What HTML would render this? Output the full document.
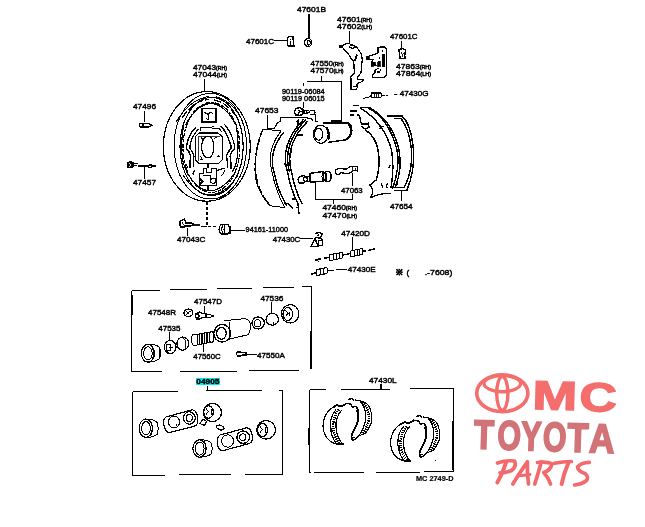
<!DOCTYPE html>
<html><head><meta charset="utf-8">
<style>
html,body{margin:0;padding:0;background:#fff;width:645px;height:527px;overflow:hidden}
svg{display:block;will-change:transform}
text{font-family:"Liberation Sans",sans-serif;fill:#000}
.t{font-size:8px;stroke:#000;stroke-width:0.45}
.s{font-size:5px}
text.ty{font-size:41px;font-weight:bold;fill:#d27377;stroke:#d27377;stroke-width:1.8}
</style></head><body>
<svg width="645" height="527" viewBox="0 0 645 527" shape-rendering="crispEdges">
<g fill="none" stroke="#000" stroke-width="1.45">
<!-- ===== leader lines ===== -->
<path d="M274 40.5H287 M349.5 31V43 M401.5 41V48 M321.5 76V81.5 M307 81.5H341.5V121 M303.5 83V86 M303.5 102V108
 M204.5 79V91.5 M144.5 111V122 M144.5 166V178.6 M267.5 115V128.5H274 M401.5 189.5V201 M315.5 181V199.5H352.5V194 M352.5 185.5V173 M333.5 199V204
 M187.5 228V236 M230.5 230.5H244.6 M300 238.5H313 M352.5 237V250 M381.5 384V389" stroke-width="1"/>
<path d="M207 202V226.5H217" stroke-dasharray="3 2" stroke-width="1.6"/>
</g>


<!-- ===== backing plate ===== -->
<g fill="none" stroke="#000" stroke-width="1.15">
<ellipse cx="206.8" cy="146.4" rx="43.4" ry="54.8"/>
<ellipse cx="210.3" cy="146.2" rx="36.3" ry="52.8" stroke-width="1"/>
<path d="M176 122 Q190 99 209 96.5 M243 122 Q233 101 216 96.8" stroke-width="1"/>
<ellipse cx="211.6" cy="146.5" rx="31.6" ry="49"/>
<ellipse cx="211.4" cy="147.4" rx="28.4" ry="45" stroke-width="1.2" stroke-dasharray="5 1.5 3 1"/>
<path d="M185.5 125Q197 104 211 103.5 225 104 236 125 M186 171Q197 190 210 191 224 190 236 171"/>
<path d="M183 175Q196 194 210 195 226 194 238 175" stroke-width="1"/>
<path d="M182 118Q194 100 209 99.5 M236 116Q226 102 214 100" stroke-width="1.3" stroke-dasharray="8 2"/>
<!-- anchor block -->
<path d="M202 108.5H216V121.9H202Z" stroke-width="1.4"/>
<path d="M204.5 112.5L207.5 114 210.5 112.5 213 113.5 M208.5 113.5V119.5 L206 118.5" stroke-width="1.1"/>
<path d="M202 109v13" stroke-width="2"/>
<!-- hub -->
<path d="M199 133H218L222.5 137V159.5L218.5 163.5H199L195.3 159.5V137Z" stroke-width="1.1"/>
<path d="M195.5 137V159" stroke-width="1.6"/>
<path d="M198.5 160.5V136H219.5" stroke-width="0.8"/>
<ellipse cx="207.8" cy="147" rx="6.2" ry="10.9" stroke-width="1.1"/>
<path d="M200 127.5H210L214 126.5 M200.5 126.5V131 M212 128.5H219L222 132"/>
<path d="M200.5 156.5l1.5 1.5-1.5 1.5h2 M217 157l1.5-1.5 1 2 M201 137.5l2 2 M214.5 138.5l2-1.5" stroke-width="1.1"/>
<!-- wavy side ribs -->
<path d="M195.5 127.5Q190 133 187.5 141.8 186 146 186.5 148.5 189.5 152 190.8 156 189.5 162 189.9 168" stroke-width="1.5"/>
<path d="M198.5 129Q193 135 190.8 142 189.5 146 190 148.5 193 152 194 156 193 162 193.5 167" stroke-width="1.2"/>
<path d="M183.7 124Q180 145 183 162 184.5 168 187.5 172" stroke-width="1.2"/>
<path d="M221 126Q227 133 229.5 141.8 231.5 146 231 148.5 227.5 152 226.5 156 228 162 227.5 168" stroke-width="1.5"/>
<path d="M224.5 124.5Q230.5 131 233.6 141.8 235 146 234.5 149 231 152 230 156 231.5 162 231 169" stroke-width="1.2"/>
<path d="M236 124Q240 145 236.5 162 235 168 232 172" stroke-width="1.2"/>
<!-- bottom block -->
<path d="M199 173.5H203V168H206.5V172H211V168H216.8V185H199Z M203 175.5H210.5V179" stroke-width="1"/>
<circle cx="213.2" cy="180.7" r="2.6" stroke-width="1.1"/>
<path d="M200 179l2.5 2.5-2.5 3" stroke-width="2.2"/>
<path d="M194.5 170.5l-1.5 3 1.5 1 M217 171q4-3 8-2 M208 163V168 M208 185V190"/>
<path d="M221 176q3 -2 4 -6 M186 164l2 4" stroke-width="1"/>
</g>

<!-- ===== top parts ===== -->
<g fill="none" stroke="#000" stroke-width="1.45">
<!-- 47601B -->
<ellipse cx="308.2" cy="42.4" rx="3.6" ry="4" stroke-width="1.3"/>
<ellipse cx="308.7" cy="42.8" rx="1.5" ry="2.3" stroke-width="1"/>
<path d="M309 13.5V38.5" stroke-width="1.4"/>
<!-- 47601C left -->
<path d="M287.5 37.5Q290 35.8 293 36.6L293.8 45.8H288.5Q287 45 287.3 42Z" stroke-width="1.6"/>
<path d="M290 39.5l1.5-1 M290 40.5V44.5" stroke-width="1"/>
<!-- lever 47601 -->
<rect x="339.3" y="44.5" width="3.2" height="3.2" fill="#000" stroke="none"/>
<path d="M342.5 46Q345 43 349 43.5L356.5 47 M342.5 47.5 349.8 55.8 351 58.8 353.8 60.7 354.3 73.6 350.8 76.5V89.4H356.5L357.7 86.4V83.5L363 81V79.5H357.3V77.5L361 72.6 362.2 59.8 361.7 54.3 356.5 47" stroke-width="1.2"/>
<ellipse cx="352.5" cy="46.8" rx="2.8" ry="1.3" stroke-width="1"/>
<path d="M357.2 54.8 354.5 61.2 M351 78V88.5" stroke-width="1.8"/>
<path d="M353 86.5h3v-2.5" stroke-width="1"/>
<!-- bracket 47863 -->
<path d="M378 53.2 378 47.6Q381.5 46.5 385.1 47.2L386.2 48.4V75.5L384.6 77.1H372.4V75L375 73.1V70L379 68 M378 53.2 366.4 56.8 366.8 59.2H373.6L371.2 62.7 371.6 66 375.2 65.2" stroke-width="1.2"/>
<path d="M382 54H384.6V66.5H382Z" fill="#000" stroke-width="0.8"/>
<path d="M366.5 56.5 369 56.2 369.5 59 367 59.2Z M371.3 62.5 375 62 376.3 65.8 372 66.2Z M377.5 61.5 380 61 380.5 66 378 67Z" fill="#000" stroke-width="0.8"/>
<path d="M382.5 50l0.5 1.5 M379 57.5l1 1.5 M377 72h3 M380 69.5l1.5 1" stroke-width="1.2"/>
<!-- 47601C right -->
<path d="M398.8 50Q402 47.5 405.5 50L404.8 55.5 405 58.4 400 58.4 399.8 55.5Z" stroke-width="1.3"/>
<path d="M401 51.5l1.5 2 1.5-2 M402.5 53.5V57" stroke-width="0.9"/>
<!-- 47430G pin -->
<path d="M371.5 93Q370.5 95.5 371.5 97.8H380.8Q382 95.5 380.8 93Z" stroke-width="1.2"/>
<path d="M374 93.5V97.5 M376.5 93.5V97.5 M378.8 93.5V97.5" stroke-width="0.9"/>
<path d="M371.5 96.5 365 97.8 362.5 99.3 M381 95.5H384.5 M386 95.7h2" stroke-width="1"/>
<!-- bolt 90119 -->
<path d="M296 108.5 299.5 107.5 303 109.5 303.3 113.5 300 115.5 296 114.8 294.2 112Z" stroke-width="1.6"/>
<path d="M298 109.8l2 1.8-2 2 M301 111h1" stroke-width="1"/>
<path d="M303.3 110.5H308 L310 111.5 M303.3 113H307.5 L310 112.5 M310 110.8H314.5V114H310 M314.5 112.5H316 M315.8 113.6V121.9H317.6" stroke-width="1"/>
<path d="M304.5 110.5v2.5 M306.5 110.5v2.5" stroke-width="1"/>
<!-- wheel cylinder -->
<path d="M322.6 122.8H347.5Q352.5 124 351.8 131 351 138 345.5 139.8L328 142.4 M341.5 121.2H331.2"/>
<path d="M347.5 123Q351 126 351 131.5 350 137 346 139.5" stroke-width="1.8"/>
<ellipse cx="320.8" cy="134.3" rx="7.4" ry="9.1" stroke-width="1.2"/>
<ellipse cx="318.6" cy="134.2" rx="4.2" ry="6" stroke-width="1.2"/>
<path d="M326.5 127Q330 131 328.5 140" stroke-width="1.8"/>
<!-- left shoe 47653 -->
<path d="M263 129L281 131Q266 150 272 172Q276 192 285 207.7L270 205.7Q254 188 255 168 255.5 147 263 129Z" stroke-width="1"/>
<path d="M263 129Q255 148 255.2 168 255.5 188 270 205.7" stroke-width="1.6" stroke-dasharray="8 3 16 2"/>
<path d="M283.5 132.5Q268 152 274 172Q278 192 287 205.7"/>
<path d="M274.2 128.5 277 123.5 280.5 121 281 117.3H304.5L312 119.2 313 121 M295.5 122.5l2.5-2.5v4h3" stroke-width="1.2"/>
<path d="M303.8 119Q279 145 287.5 172Q291 190 298 204 L299 213.6 M307.8 121Q284 145 291.5 172Q295 190 302 204 M305.8 119.5Q281.5 145 289.5 172"/>
<path d="M284 203l5 1 4 5 M296 208l3-1" stroke-width="1.2"/>
<path d="M297 135h6 M291 150v3 M286 161l-1.5 3 1.5 1.5 M292 199h4" stroke-width="1.2"/>
<!-- right shoe 47654 -->
<path d="M352.5 105.5H359.2 M359.5 107.5H370.5 M349.5 111H356.5 M349.5 115H354 M356.5 115H358.5L360 117.5 360.5 121.5 362 124H368 M360.5 126.5H362L364 128.5H367.5 M367 123.5 368.5 123 369 127.5H367"/>
<path d="M360 108Q384 122 391.5 150 394.5 166 391 188"/>
<path d="M367 107.3Q389 118 397 150 400.5 166 392.5 189"/>
<path d="M370.5 108.5Q392 120 399 150 402.5 168 395.5 187"/>
<path d="M365 129.5Q376 137 378 150 381 165 376.2 180 370 185 370 185 375 190.6 370.5 198 379.6 192.8 391 193.4 395.5 187.5"/>
<path d="M387 116H402 Q411 124 413.5 150 415 170 407 190.3 H393.5 M393 187.5H405 M393.5 118.5H401 Q409 128 411.6 150 413 170 404.5 187"/>
<path d="M379 126.5h4.5 M379 128.5h2 M390 165l-1 3 M398 183l-1.5 3 M387.5 183.5q-2 3 0 5" stroke-width="1.3"/>
<path d="M381 183l2 5" stroke-width="1.2"/>
<!-- adjuster 47460 -->
<path d="M299.5 177Q297 180 299.5 183 H303.5 L305 181.5 H309.5 V176.5 H305 L303.5 175.5Z" stroke-width="1.6"/>
<circle cx="305.5" cy="179.3" r="2"/>
<path d="M309.9 173.4 323.5 171.5 M309.9 182 323.5 181.5 M309.9 173.4V182"/>
<ellipse cx="327.3" cy="176.4" rx="3.9" ry="5.2"/>
<path d="M323.5 171.3Q320.5 176.5 323.5 181.7 M325 172v9 M326.5 172.5v8" stroke-width="1"/>
<!-- 47063 plate -->
<path d="M336 169.5Q335 174 338 175 L341 172.8 348 173.5 351 172.5 353.5 170.5 357.6 171 357.6 166.2 349 167 347 169 338 168.8Z" stroke-width="1.2"/>
<path d="M352 166.5V170.5 M355 167.5l0.5 2.5" stroke-width="0.9"/>
<!-- 47496 pin -->
<path d="M140 123.5Q138.8 125 140 127H148.5L151.8 125.3 148.5 123.5Z" stroke-width="1.3"/>
<path d="M143 123.5V127" stroke-width="1.4"/>
<!-- 47457 bolt -->
<path d="M127.5 162.5 130.5 161.3 133 162.5V166.8L130.5 167.8 127.5 167Z" fill="#000" stroke-width="1"/>
<path d="M129 163.5l2 1.5-2 1.5" stroke="#fff" stroke-width="0.9"/>
<path d="M133 163.2H138 M133 165.8H137" stroke-width="1"/>
<path d="M138 165.8H147.5" stroke-width="1.8"/>
<path d="M148.5 165H151 M151.5 163.8V168 M151.5 166H156 M148.5 165V167.5H151" stroke-width="1.3"/>
<!-- 47043C bolt -->
<path d="M180.3 221Q179 224 180.5 227 H184.5 L186 225.8 H191 L193 224.8 V224 L191 222.8 H186 L184.5 219Z" stroke-width="1.5"/>
<path d="M182 221.5l2 3 -2 2.5" stroke-width="0.9"/>
<path d="M193 225.8H200 M194 224.4H200.3" stroke-width="0.9"/>
<path d="M200.5 226.3H207" stroke-width="1"/>
<!-- 94161 nut -->
<path d="M221 224.5Q217.2 229 221 234 H228 Q231.3 229 228 224.5Z" stroke-width="1.3"/>
<path d="M223 225Q220.5 229 223 233.5 M225 225.5Q223 229 225 233.5" stroke-width="1.1"/>
<path d="M228.5 226.5h1.5v7h-1.5" stroke-width="1.3"/>
<!-- 47430C clip -->
<path d="M311 246.2 315 238.5 318 246.2Z" stroke-width="1.4"/>
<path d="M315.5 233.5Q318.5 232 322 233.5 322.5 236 319.5 238.2 323 239 322.5 242 M314 239Q316 237 319 238 M318.8 240.8H322.8V245.6H318.8Z" stroke-width="1.3"/>
<path d="M317 236l2-1.5" stroke-width="1.1"/>
<!-- 47420D spring assembly -->
<path d="M314.5 260.3 321 258.8 M323.5 258.4 329 257.3 M342 255.2 350.4 253.5 M362 251.5 366 250.8 M368.5 250.5 374.8 248.8"/>
<path d="M315 260.8l4-2.2 M315 260.2l4 1" stroke-width="0.9"/>
<path d="M330 254.5Q328.5 257.5 330 260.5L342 258.3Q343.5 255.5 342 252.5Z M333 254V259.8 M336 253.4V259.2 M339 252.8V258.7" stroke-width="1"/>
<path d="M351 251Q349.5 254 351 257L362 254.5Q363.5 251.5 362 248.5Z M354 250.5V256.5 M357 250V256 M359.5 249.3V255.3" stroke-width="1"/>
<!-- 47430E spring -->
<path d="M311 274.5 316 272.5" stroke-width="1.6"/>
<path d="M317 269.5Q315.5 272.5 317 275.5L327 273.5Q328.5 270.5 327 267.5Z M320 269V275 M323 268.5V274.5" stroke-width="1"/>
<path d="M328 270.5H333.5 M336 269.8H347" stroke-width="1"/>
</g>


<!-- ===== box 1 ===== -->
<g fill="none" stroke="#000" stroke-width="1.45">
<path d="M131.5 290.5H160 M170 289.5H206.6 M217.2 288.5H252 M262.5 287.5H294.3 M302 286.5H311V369 M131.5 290.5V371.5H161.7 M179.6 371.5H237.3 M249 370.5H298.5" stroke-width="1"/>
<path d="M311 331V369" stroke-width="1.8"/>
<path d="M131.8 295V315" stroke-width="1.8"/>
<!-- 47548R ring -->
<ellipse cx="188.4" cy="312.8" rx="4.5" ry="3.7" stroke-width="1.3"/>
<path d="M186.5 311.5l2 1.5-2 1.5 M189 311.5h1.5" stroke-width="1"/>
<!-- bleeder 47547D -->
<path d="M196 314Q195 316.5 196.5 319H200L202 317.5H206V313.5H202L200 312Z" stroke-width="1.4"/>
<path d="M197.5 314l2 2-2 2 M206 314H209.5 M206 317H209.5 M210 314.5 213.5 316 210 317.5" stroke-width="1"/>
<path d="M204.7 305.5V313" stroke-width="1"/>
<!-- large boot left -->
<ellipse cx="147.9" cy="353.3" rx="6.6" ry="8.9" stroke-width="1.2"/>
<ellipse cx="147.9" cy="353.4" rx="4.3" ry="6.6" stroke-width="1"/>
<path d="M148 344.4Q156 344 159.5 347.5 161.5 353 159.5 358.5 155 362 148 362.2" stroke-width="1"/>
<path d="M152 346.5Q155 353 152 360.5 M159 349v8" stroke-width="1"/>
<!-- piston 47535 -->
<ellipse cx="170.2" cy="347.1" rx="5.9" ry="6.6" stroke-width="1.2"/>
<path d="M166 344h4v6h-4z M169 347h4 M167 351.5l2 1.5" stroke-width="1"/>
<path d="M169.7 332V340.5" stroke-width="1"/>
<!-- cup -->
<ellipse cx="182.8" cy="343.6" rx="5.9" ry="6.6" stroke-width="1.2"/>
<path d="M183.5 337.5Q187 342 185 349" stroke-width="0.9"/>
<!-- spring 47560C -->
<path d="M193 334.2H197 Q199 339.5 197 345 H193 Q189.8 339.5 193 334.2Z" stroke-width="1"/>
<path d="M197 334.3 211 331.8 M197 345 211 342.3" stroke-width="1"/>
<path d="M199.5 334V344.5 M202 333.5V344 M204.5 333V343.5 M207 332.5V343 M209.5 332V342.5" stroke-width="1.3"/>
<ellipse cx="211.5" cy="337" rx="2.5" ry="5.3" stroke-width="1"/>
<path d="M203.8 344V352" stroke-width="1"/>
<!-- cylinder body -->
<ellipse cx="222.2" cy="333.3" rx="8.4" ry="8.8" stroke-width="1.3"/>
<ellipse cx="221.4" cy="333.3" rx="4.8" ry="5.9" stroke-width="1.3"/>
<path d="M224 320.8 244.6 318.6 Q251 320 250.5 327 250 333 247.6 334.8 L229 339.2 M229.5 322v16" stroke-width="1"/>
<path d="M215.5 329l-1.5 3 M229 333.5h1.5" stroke-width="1.5"/>
<!-- cup 47536 small -->
<ellipse cx="258.2" cy="323" rx="6.2" ry="6" stroke-width="1.2"/>
<ellipse cx="257.5" cy="323.2" rx="3.2" ry="3.6" stroke-width="1"/>
<!-- piston ball -->
<ellipse cx="272.2" cy="319.3" rx="6.2" ry="5.9" stroke-width="1.2"/>
<path d="M271.8 302V313.4" stroke-width="1"/>
<path d="M273.5 324l0.5-1.5" stroke-width="1.3"/>
<!-- boot right -->
<ellipse cx="290.2" cy="313.8" rx="8.7" ry="9.2" stroke-width="1.2"/>
<ellipse cx="287.8" cy="314" rx="4.8" ry="6.5" stroke-width="1.2"/>
<path d="M285.5 310.5l2.5 3-2.5 3 M289 312v4" stroke-width="1"/>
<!-- 47550A -->
<path d="M237 352Q236 354 237.5 356H241L242.5 355H246V352.8H242.5L241 352Z" stroke-width="1.2"/>
<path d="M246 354.5H257" stroke-width="1"/>
</g>

<!-- ===== box 2 ===== -->
<g fill="none" stroke="#000" stroke-width="1.45">
<path d="M132.5 391.5H177.5 M205.5 390.5H262 M279 390.5H282.5V474 M132.5 391.5V475.5H164.5 M179 474.5H230.5 M245 474.5H282.5 M207.5 386V390.5" stroke-width="1"/>
<path d="M132.5 423V448" stroke-width="1.8"/>
<!-- boot 1 -->
<ellipse cx="145.8" cy="428.2" rx="6.6" ry="9.2" stroke-width="1.2"/>
<ellipse cx="146" cy="428.3" rx="4.3" ry="6.8" stroke-width="1"/>
<path d="M146 419Q155 419 157.5 423 159 428 157.5 434 154 437.5 146 437.5 M150.5 421Q154 428 150.5 436" stroke-width="1"/>
<!-- plate 1 -->
<path d="M166 417Q162 420 164.5 427 166 433.5 170 432.5L195 426Q199 424.5 197.5 416 195.5 409 191.5 410Z" stroke-width="1.2"/>
<ellipse cx="174" cy="422" rx="5.5" ry="5.9" stroke-width="1"/>
<ellipse cx="189.4" cy="418" rx="5.8" ry="6.3" stroke-width="1.2"/>
<ellipse cx="189.4" cy="418" rx="3" ry="3.4" stroke-width="1.2"/>
<path d="M176 426l1-1.5" stroke-width="1.3"/>
<!-- cone 1 -->
<path d="M200 423.5 203 419 206.5 421.5 204.5 425.5Z" stroke-width="1.1"/>
<!-- boot 2 top -->
<ellipse cx="212.5" cy="412.5" rx="9" ry="9" stroke-width="1.2"/>
<ellipse cx="208.5" cy="412" rx="4.8" ry="6.2" stroke-width="1.2"/>
<path d="M206 408.5l2.5 3-2.5 3 M211 409v6" stroke-width="1"/>
<!-- cone 2 -->
<path d="M217 428Q215.5 425.5 219 425 222 425 224.5 428.5 221 432 217 428Z" stroke-width="1.2"/>
<!-- boot 3 bottom -->
<ellipse cx="199.5" cy="448.5" rx="6.6" ry="8.7" stroke-width="1.2"/>
<ellipse cx="199.7" cy="448.6" rx="4.4" ry="6.6" stroke-width="1"/>
<path d="M200 439.8Q209 439.8 211.5 443.5 213 448.5 211.5 453.5 208 457 200 457.2 M204.5 441.5Q208 448.5 204.5 455.5" stroke-width="1"/>
<!-- plate 2 -->
<path d="M220 435Q216 438 217.5 445 219 451.5 223.5 450.5L249.5 443.5Q253.5 442 252 434 250 427 246 428Z" stroke-width="1.2"/>
<ellipse cx="227.6" cy="441" rx="5.9" ry="6.2" stroke-width="1"/>
<ellipse cx="243.2" cy="437.2" rx="6.3" ry="6.2" stroke-width="1.3"/>
<ellipse cx="242.8" cy="437.2" rx="3.2" ry="3.3" stroke-width="1"/>
<!-- boot 4 -->
<ellipse cx="266.1" cy="429.8" rx="9.4" ry="9.3" stroke-width="1.2"/>
<ellipse cx="262.5" cy="430" rx="5" ry="6.5" stroke-width="1.2"/>
<path d="M260 426.5l2.5 3-2.5 3 M265 427v6" stroke-width="1"/>
</g>

<!-- ===== box 3 ===== -->
<g fill="none" stroke="#000" stroke-width="1.45">
<path d="M309.5 389.5H325.5 M341 389.5H389.5 M410 388.5H453.5V471.5 M309.5 389.5V472.5H311 M314 472.5H364 M375.5 472.5H420 M424 471.5H453.5 M380.5 384V389.5" stroke-width="1"/>
<path d="M309.3 428V444.5" stroke-width="1.8"/>
<path d="M453.3 421V470" stroke-width="1.8"/>
<g id="sl">
<path d="M334.2 406.6C324 412 321.5 424 324 432 326.5 440 333 444.6 342.8 444.6" stroke-width="1.2"/>
<path d="M336.1 409.5C330 416 329.5 426 331 432 332.5 438 335 442 337 444.2" stroke-width="1.2"/>
<path d="M342.3 409.5C337 415 335.5 422 336.1 428 336.5 434 339 440 342.3 443.7" stroke-width="1.2"/>
<path d="M339.2 409.5C333.5 415.5 332.5 424 333.5 430 334.5 436 337 441 339.8 444" stroke-width="2.6" stroke-dasharray="1.2 1"/>
<path d="M333 407.5 337 405 341 406.5 345 404.5 346.5 403" stroke-width="1.8"/>
<path d="M338 444.3H343.5 M331.5 428v5" stroke-width="1.8"/>
</g>
<g id="sr">
<path d="M348.5 399.5 352 398.5 354.5 400.5 M347 403.5 350.5 404 352.5 407 356.3 406.3" stroke-width="1.4"/>
<path d="M356.3 406.3C358.5 409 358.5 414 358.2 418 357.5 425 354 430 352.5 433 351 436 351 438.6 353.4 440.5" stroke-width="1.9"/>
<path d="M355 400 359.6 400.6C364 405 366 412 365.8 417.7 365.5 425 362 431 359.1 435.8L353.4 440.5" stroke-width="1.2"/>
<path d="M359.6 400.6C366 402 370 406 370.5 410.1 372 414 372 420 371.5 422 369.5 428 367 431 365.8 433 L359.1 435.8" stroke-width="1.2"/>
<path d="M362 402.5C367 406 368.8 412 368.8 417.7 368.5 424 366 429 362.5 434.5" stroke-width="2.4" stroke-dasharray="1.2 1"/>
<path d="M355.5 411h3v2 M352 437.5h2.5" stroke-width="1.6"/>
</g>
<use href="#sl" transform="translate(67.5 17)"/>
<use href="#sr" transform="translate(68 17)"/>
<circle cx="435.7" cy="460.6" r="0.7" fill="#000" stroke="none"/>
</g>

<!-- ===== text labels ===== -->
<g class="t">
<text x="297" y="12" textLength="29" lengthAdjust="spacingAndGlyphs" style="font-size:8px">47601B</text>
<text x="246" y="44.2" textLength="28" lengthAdjust="spacingAndGlyphs" style="font-size:8px">47601C</text>
<text x="337" y="21.5" textLength="35" lengthAdjust="spacingAndGlyphs">47601<tspan class="s">(RH)</tspan></text>
<text x="337" y="28.6" textLength="35" lengthAdjust="spacingAndGlyphs">47602<tspan class="s">(LH)</tspan></text>
<text x="390" y="39.4" textLength="27.5" lengthAdjust="spacingAndGlyphs" style="font-size:8px">47601C</text>
<text x="396" y="68.6" textLength="35" lengthAdjust="spacingAndGlyphs">47863<tspan class="s">(RH)</tspan></text>
<text x="396" y="75.7" textLength="35" lengthAdjust="spacingAndGlyphs">47864<tspan class="s">(LH)</tspan></text>
<text x="310.6" y="66.2" textLength="33" lengthAdjust="spacingAndGlyphs">47550<tspan class="s">(RH)</tspan></text>
<text x="310.6" y="72.8" textLength="33" lengthAdjust="spacingAndGlyphs">47570<tspan class="s">(LH)</tspan></text>
<text x="282" y="93.8" textLength="42.6" lengthAdjust="spacingAndGlyphs">90119-06084</text>
<text x="282" y="101" textLength="42.6" lengthAdjust="spacingAndGlyphs">90119 06015</text>
<text x="193" y="70" textLength="34" lengthAdjust="spacingAndGlyphs">47043<tspan class="s">(RH)</tspan></text>
<text x="193" y="77.3" textLength="34" lengthAdjust="spacingAndGlyphs">47044<tspan class="s">(LH)</tspan></text>
<text x="133" y="109.2" textLength="23" lengthAdjust="spacingAndGlyphs">47496</text>
<text x="255" y="113.2" textLength="23.5" lengthAdjust="spacingAndGlyphs">47653</text>
<text x="394" y="96" textLength="3.5" lengthAdjust="spacingAndGlyphs" style="font-size:8px">-</text><text x="399.8" y="96" textLength="28.8" lengthAdjust="spacingAndGlyphs" style="font-size:8px">47430G</text>
<text x="133" y="185.2" textLength="23" lengthAdjust="spacingAndGlyphs">47457</text>
<text x="341" y="193.4" textLength="21.7" lengthAdjust="spacingAndGlyphs">47063</text>
<text x="389.9" y="208.8" textLength="22.7" lengthAdjust="spacingAndGlyphs">47654</text>
<text x="322.4" y="210.4" textLength="34.6" lengthAdjust="spacingAndGlyphs">47460<tspan class="s">(RH)</tspan></text>
<text x="322.4" y="217.5" textLength="34.6" lengthAdjust="spacingAndGlyphs">47470<tspan class="s">(LH)</tspan></text>
<text x="177" y="242" textLength="28.3" lengthAdjust="spacingAndGlyphs">47043C</text>
<text x="245.6" y="232.3" textLength="42.4" lengthAdjust="spacingAndGlyphs">94161-11000</text>
<text x="272.8" y="241.7" textLength="27.5" lengthAdjust="spacingAndGlyphs">47430C</text>
<text x="341.3" y="236.2" textLength="28.7" lengthAdjust="spacingAndGlyphs">47420D</text>
<text x="347.8" y="271.5" textLength="27.9" lengthAdjust="spacingAndGlyphs">47430E</text>
<text x="396" y="274.8" style="font-size:8px;font-weight:bold;stroke-width:0.5">※</text>
<text x="406.5" y="275" style="font-size:8px">(</text>
<text x="424.7" y="275" textLength="27.7" lengthAdjust="spacingAndGlyphs">.-7608)</text>
<text x="148" y="315.4" textLength="28" lengthAdjust="spacingAndGlyphs">47548R</text>
<text x="194" y="304.1" textLength="28" lengthAdjust="spacingAndGlyphs">47547D</text>
<text x="158.3" y="330.7" textLength="22.2" lengthAdjust="spacingAndGlyphs">47535</text>
<text x="193.3" y="359.2" textLength="27.3" lengthAdjust="spacingAndGlyphs">47560C</text>
<text x="260.4" y="301.2" textLength="23" lengthAdjust="spacingAndGlyphs">47536</text>
<text x="257" y="357.6" textLength="27.8" lengthAdjust="spacingAndGlyphs">47550A</text>
<text x="369" y="382.8" textLength="27.7" lengthAdjust="spacingAndGlyphs">47430L</text>
<text x="416" y="480.9" textLength="37.5" lengthAdjust="spacingAndGlyphs" style="font-weight:bold;stroke-width:0.2">MC 2749-D</text>
</g>
<rect x="195.8" y="377.9" width="24.2" height="7" fill="#00f2fa"/>
<text class="t" x="196.3" y="384" textLength="23.2" lengthAdjust="spacingAndGlyphs" style="font-size:7.5px;font-weight:bold;stroke-width:0.4">04905</text>

<!-- ===== logo ===== -->
<g fill="none" stroke="#f46e6e" shape-rendering="geometricPrecision">
<ellipse cx="502.3" cy="393.2" rx="25.6" ry="18.4" stroke-width="3.6"/>
<ellipse cx="502.3" cy="383.6" rx="18.3" ry="7.9" stroke-width="3.2"/>
<path d="M487 388Q493 392.6 502.3 392.6 511.5 392.6 517.6 388" stroke-width="2"/>
<ellipse cx="502.3" cy="393.4" rx="5.6" ry="16.8" stroke-width="3.4"/>
</g>
<g transform="rotate(1.5 575 396)">
<text transform="translate(532.6 410.2) scale(1.32 1)" style="font-size:40.5px;font-weight:bold;fill:#f46e6e;stroke:#f46e6e;stroke-width:1.5">M</text>
<text transform="translate(579.6 410.6) scale(1.27 1)" style="font-size:40.5px;font-weight:bold;fill:#f46e6e;stroke:#f46e6e;stroke-width:1.5">C</text>
</g>
<g transform="rotate(1.8 544 437)">
<text transform="translate(484 450.8) scale(0.8 1)" text-anchor="middle" class="ty">T</text>
<text transform="translate(509.3 450.8) scale(0.74 1)" text-anchor="middle" class="ty">O</text>
<text transform="translate(531.4 450.8) scale(0.74 1)" text-anchor="middle" class="ty">Y</text>
<text transform="translate(554.6 450.8) scale(0.74 1)" text-anchor="middle" class="ty">O</text>
<text transform="translate(578 450.8) scale(0.84 1)" text-anchor="middle" class="ty">T</text>
<text transform="translate(602 450.8) scale(0.86 1)" text-anchor="middle" class="ty">A</text>
</g>
<g fill="none" stroke="#f26a6c" stroke-width="3.7" stroke-linecap="round" stroke-linejoin="round" shape-rendering="geometricPrecision">
<path d="M497.5 463Q506 460 514.5 461 Q517 466 511.5 470.5 506 473 500 472.8"/>
<path d="M506 462.5Q503 473 497.3 482.5" stroke-width="4"/>
<path d="M512.8 484Q520 472 527.4 461.8 Q527 474 528.5 484"/>
<path d="M518 476L530 474.5" stroke-width="3"/>
<path d="M541.3 462Q538 474 534.8 484"/>
<path d="M537.5 462.5Q548 461.5 551.9 464 Q550.5 470.5 543.7 472.5 Q548 477 550.5 484"/>
<path d="M554.3 463.3Q563 461.5 571.4 461.5"/>
<path d="M568.5 462.5Q564 473 561.6 484" stroke-width="4"/>
<path d="M589.3 462.3Q581 462.5 577.5 467 Q578 471 585 473.5 Q589.5 477 586 481 581 484.5 574.6 485"/>
</g>
</svg>
</body></html>
